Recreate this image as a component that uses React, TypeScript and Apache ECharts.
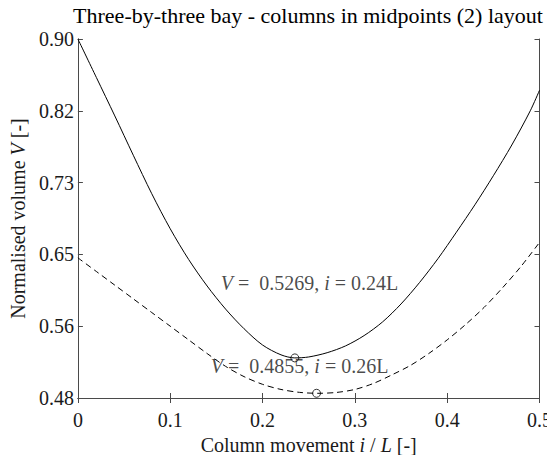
import { useEffect, useRef } from "react";
import * as echarts from "echarts";

// ---- data ----
const xTickValues = [0, 0.1, 0.2, 0.3, 0.4, 0.5];
const yTickLabels = ["0.48", "0.56", "0.65", "0.73", "0.82", "0.90"];

const solidMovement = [0, 0.02, 0.04, 0.06, 0.08, 0.1, 0.12, 0.14, 0.16, 0.18, 0.2, 0.22, 0.235, 0.25, 0.27, 0.29, 0.31, 0.33, 0.35, 0.37, 0.39, 0.41, 0.43, 0.45, 0.47, 0.49, 0.5];
const solidVolume = [0.9, 0.855, 0.81, 0.764, 0.719, 0.678, 0.642, 0.611, 0.584, 0.561, 0.542, 0.5305, 0.5269, 0.528, 0.533, 0.541, 0.553, 0.569, 0.59, 0.615, 0.643, 0.674, 0.706, 0.74, 0.776, 0.816, 0.84];

const dashedMovement = [0, 0.02, 0.04, 0.06, 0.08, 0.1, 0.12, 0.14, 0.16, 0.18, 0.2, 0.22, 0.24, 0.26, 0.28, 0.3, 0.32, 0.34, 0.36, 0.38, 0.4, 0.42, 0.44, 0.46, 0.48, 0.5];
const dashedVolume = [0.644, 0.628, 0.612, 0.596, 0.58, 0.564, 0.548, 0.532, 0.517, 0.505, 0.496, 0.49, 0.4866, 0.4855, 0.4865, 0.49, 0.497, 0.507, 0.518, 0.532, 0.548, 0.566, 0.586, 0.609, 0.634, 0.662];

const solidMinimum = [0.235, 0.5269];
const dashedMinimum = [0.2585, 0.4855];

const solidNote = ["0.5269", "0.24L"];
const dashedNote = ["0.4855", "0.26L"];
const solidNoteAnchor = [0.1547, 0.6145];
const dashedNoteAnchor = [0.144, 0.5174];

const titleText = "Three-by-three bay - columns in midpoints (2) layout";

const FONT = "'Liberation Serif', 'Times New Roman', serif";
const AXIS = "#4a4a4a";
const TEXT = "#1a1a1a";
const TICK_SIZE = 20;
const NAME_SIZE = 20;
const NOTE_SIZE = 20;
const TITLE_SIZE = 22;

export default function App() {
  const ref = useRef<HTMLDivElement>(null);

  useEffect(() => {
    if (!ref.current) return;
    const chart = echarts.init(ref.current, undefined, { renderer: "svg" });
    const yMin = 0.48;
    const yMax = 0.9;
    const italicRich = {
      i: { fontStyle: "italic", fontFamily: FONT, fontSize: NAME_SIZE, color: TEXT },
    };
    const noteLabel = (vals: string[]) => ({
      show: true,
      position: "right",
      distance: 0,
      formatter: `{i|V} =  ${vals[0]}, {i|i} = ${vals[1]}`,
      fontFamily: FONT,
      fontSize: NOTE_SIZE,
      color: TEXT,
      rich: { i: { fontStyle: "italic", fontFamily: FONT, fontSize: NOTE_SIZE, color: TEXT } },
    });

    chart.setOption({
      animation: false,
      backgroundColor: "#ffffff",
      textStyle: { fontFamily: FONT },
      graphic: [
        {
          type: "text",
          x: 308,
          y: 15,
          style: {
            text: titleText,
            fontFamily: FONT,
            fontSize: TITLE_SIZE,
            fill: "#000",
            textAlign: "center",
            textVerticalAlign: "middle",
          },
        },
      ],
      grid: { left: 72, right: 11, top: 39, bottom: 65, containLabel: false },
      xAxis: [
        {
          type: "value",
          min: 0,
          max: 0.5,
          interval: 0.1,
          position: "bottom",
          name: "Column movement {i|i} / {i|L} [-]",
          nameLocation: "middle",
          nameGap: 21,
          nameTextStyle: { fontFamily: FONT, fontSize: NAME_SIZE, color: TEXT, rich: italicRich },
          axisLine: { show: true, lineStyle: { color: AXIS, width: 1 } },
          axisTick: { show: true, inside: true, length: 5, lineStyle: { color: AXIS } },
          axisLabel: {
            show: true,
            margin: 12,
            fontFamily: FONT,
            fontSize: TICK_SIZE,
            color: TEXT,
            formatter: (v: number) => {
              const hit = xTickValues.find((t) => Math.abs(t - v) < 1e-9);
              if (hit === undefined) return "";
              return hit === 0 ? "0" : hit.toFixed(1);
            },
          },
          splitLine: { show: false },
        },
        {
          type: "value",
          min: 0,
          max: 0.5,
          interval: 0.1,
          position: "top",
          axisLine: { show: true, lineStyle: { color: AXIS, width: 1 } },
          axisTick: { show: true, inside: true, length: 5, lineStyle: { color: AXIS } },
          axisLabel: { show: false },
          splitLine: { show: false },
        },
      ],
      yAxis: [
        {
          type: "value",
          min: yMin,
          max: yMax,
          position: "left",
          axisLine: { show: true, lineStyle: { color: AXIS, width: 1 } },
          axisTick: { show: false },
          axisLabel: { show: false },
          splitLine: { show: false },
        },
        {
          type: "value",
          min: 0,
          max: yTickLabels.length - 1,
          interval: 1,
          position: "left",
          name: "Normalised volume {i|V} [-]",
          nameLocation: "middle",
          nameGap: 41,
          nameTextStyle: { fontFamily: FONT, fontSize: NAME_SIZE, color: TEXT, rich: italicRich },
          axisLine: { show: true, lineStyle: { color: AXIS, width: 1 } },
          axisTick: { show: true, inside: true, length: 5, lineStyle: { color: AXIS } },
          axisLabel: {
            show: true,
            margin: 4,
            fontFamily: FONT,
            fontSize: TICK_SIZE,
            color: TEXT,
            formatter: (v: number) => yTickLabels[Math.round(v)] ?? "",
          },
          splitLine: { show: false },
        },
        {
          type: "value",
          min: 0,
          max: yTickLabels.length - 1,
          interval: 1,
          position: "right",
          axisLine: { show: true, lineStyle: { color: AXIS, width: 1 } },
          axisTick: { show: true, inside: true, length: 5, lineStyle: { color: AXIS } },
          axisLabel: { show: false },
          splitLine: { show: false },
        },
      ],
      series: [
        {
          type: "line",
          xAxisIndex: 0,
          yAxisIndex: 0,
          data: solidMovement.map((x, i) => [x, solidVolume[i]]),
          smooth: 0.3,
          showSymbol: false,
          lineStyle: { color: "#000", width: 1, type: "solid" },
          z: 3,
        },
        {
          type: "line",
          xAxisIndex: 0,
          yAxisIndex: 0,
          data: dashedMovement.map((x, i) => [x, dashedVolume[i]]),
          smooth: 0.3,
          showSymbol: false,
          lineStyle: { color: "#000", width: 1, type: [6, 4] },
          z: 3,
        },
        {
          type: "scatter",
          xAxisIndex: 0,
          yAxisIndex: 0,
          data: [solidMinimum, dashedMinimum],
          symbol: "circle",
          symbolSize: 8,
          itemStyle: { color: "rgba(0,0,0,0)", borderColor: "#000", borderWidth: 1 },
          z: 4,
          silent: true,
        },
        {
          type: "scatter",
          xAxisIndex: 0,
          yAxisIndex: 0,
          symbolSize: 0,
          silent: true,
          data: [
            { value: solidNoteAnchor, label: noteLabel(solidNote) },
            { value: dashedNoteAnchor, label: noteLabel(dashedNote) },
          ],
          labelLayout: { hideOverlap: false },
          z: 5,
        },
      ],
    });

    return () => chart.dispose();
  }, []);

  return <div ref={ref} style={{ width: 555, height: 463, margin: -8 }} />;
}
